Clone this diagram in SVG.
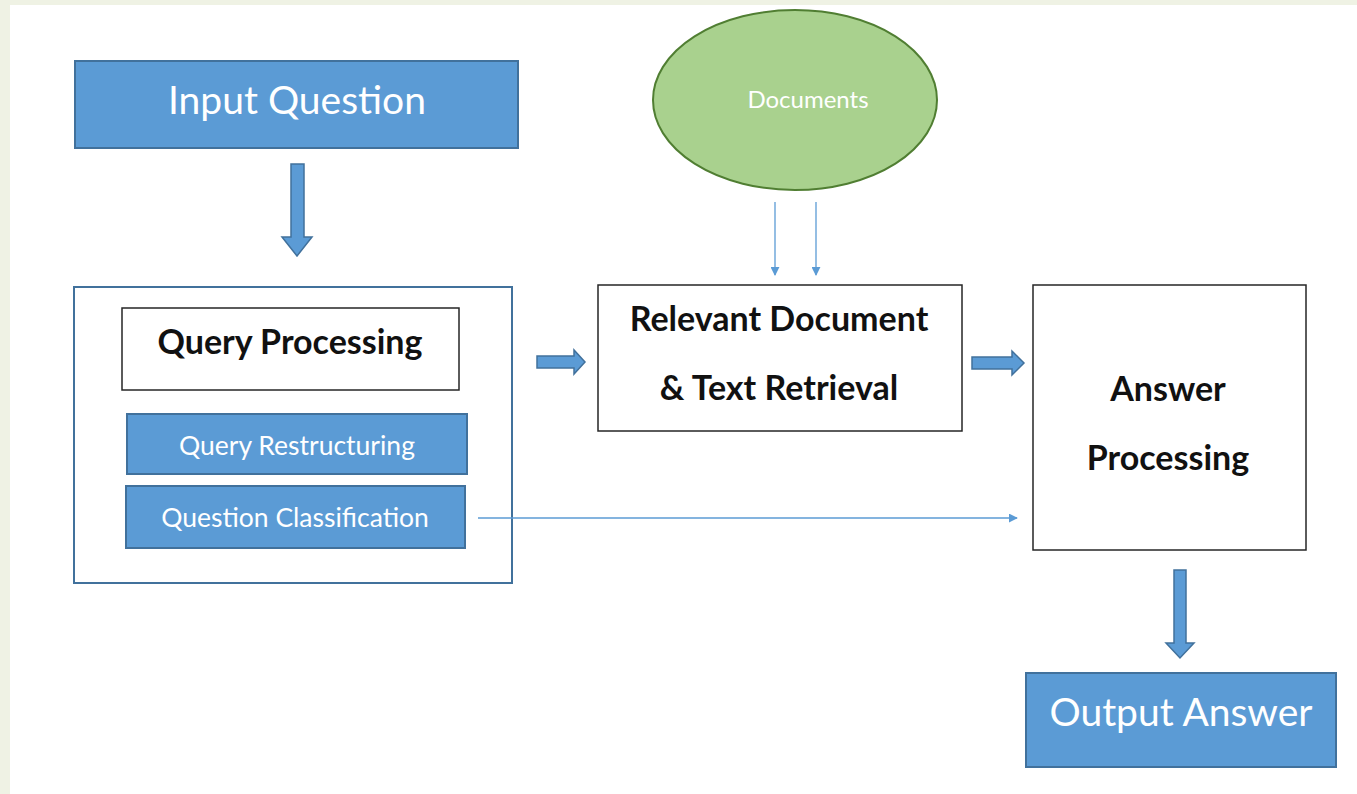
<svg xmlns="http://www.w3.org/2000/svg" width="1357" height="794" viewBox="0 0 1357 794">
  <defs>
    <style>
      .blue { fill: #5b9bd5; stroke: #41719c; stroke-width: 2; }
      .plain { fill: #ffffff; stroke: #262626; stroke-width: 1.5; }
      .frame { fill: #ffffff; stroke: #41719c; stroke-width: 2; }
      .fat { fill: #5b9bd5; stroke: #41719c; stroke-width: 1.5; stroke-linejoin: miter; }
      .thin { fill: none; stroke: #5b9bd5; stroke-width: 1.3; }
      .wt { fill: #ffffff; font-family: Lato, "Open Sans", "Liberation Sans", sans-serif; text-anchor: middle; }
      .bt { fill: #111111; font-family: Lato, "Open Sans", "Liberation Sans", sans-serif; font-weight: bold; text-anchor: middle; font-size: 34px; }
      .sm { font-size: 26.5px; }
      .lg { font-size: 39px; }
    </style>
    <marker id="tri" viewBox="0 0 10 10" refX="9" refY="5" markerWidth="9" markerHeight="9" markerUnits="userSpaceOnUse" orient="auto">
      <path d="M0,0 L10,5 L0,10 Z" fill="#5b9bd5"/>
    </marker>
  </defs>

  <!-- page background with tinted margins -->
  <rect x="0" y="0" width="1357" height="794" fill="#eff2e4"/>
  <rect x="10" y="5" width="1347" height="789" fill="#ffffff"/>

  <g id="input-question">
    <rect class="blue" x="75" y="61" width="443" height="87"/>
    <text class="wt lg" x="297" y="114">Input Question</text>
  </g>

  <g id="documents">
    <ellipse cx="795" cy="100" rx="142" ry="90" fill="#a9d18e" stroke="#507e32" stroke-width="2"/>
    <text class="wt" x="808" y="108" font-size="24" fill="#eef6e2">Documents</text>
  </g>

  <g id="query-block">
    <rect class="frame" x="74" y="287" width="438" height="296"/>
    <g id="query-processing">
      <rect class="plain" x="122" y="308" width="337" height="82"/>
      <text class="bt" x="290" y="354">Query Processing</text>
    </g>
    <g id="query-restructuring">
      <rect class="blue" x="127" y="414" width="340" height="60"/>
      <text class="wt sm" x="297" y="455">Query Restructuring</text>
    </g>
    <g id="question-classification">
      <rect class="blue" x="126" y="486" width="339" height="62"/>
      <text class="wt sm" x="295" y="527">Question Classification</text>
    </g>
  </g>

  <g id="retrieval">
    <rect class="plain" x="598" y="285" width="364" height="146"/>
    <text class="bt" x="779" y="331">Relevant Document</text>
    <text class="bt" x="779" y="400">&amp; Text Retrieval</text>
  </g>

  <g id="answer-processing">
    <rect class="plain" x="1033" y="285" width="273" height="265"/>
    <text class="bt" x="1168" y="401">Answer</text>
    <text class="bt" x="1168" y="470">Processing</text>
  </g>

  <g id="output-answer">
    <rect class="blue" x="1026" y="673" width="310" height="94"/>
    <text class="wt lg" x="1181" y="726">Output Answer</text>
  </g>

  <g id="connectors">
    <!-- block arrows -->
    <path class="fat" d="M291,164 H304 V237 H312 L297,256 L282,237 H291 Z"/>
    <path class="fat" d="M537,356 H574 V350 L585,362 L574,374 V368 H537 Z"/>
    <path class="fat" d="M972,357 H1012 V351 L1024,363 L1012,375 V369 H972 Z"/>
    <path class="fat" d="M1174,570 H1186 V643 H1194 L1180,658 L1166,643 H1174 Z"/>
    <!-- thin arrows -->
    <line class="thin" x1="775" y1="202" x2="775" y2="275" marker-end="url(#tri)"/>
    <line class="thin" x1="816" y1="202" x2="816" y2="275" marker-end="url(#tri)"/>
    <line class="thin" x1="478" y1="518" x2="1017" y2="518" marker-end="url(#tri)"/>
  </g>
</svg>
